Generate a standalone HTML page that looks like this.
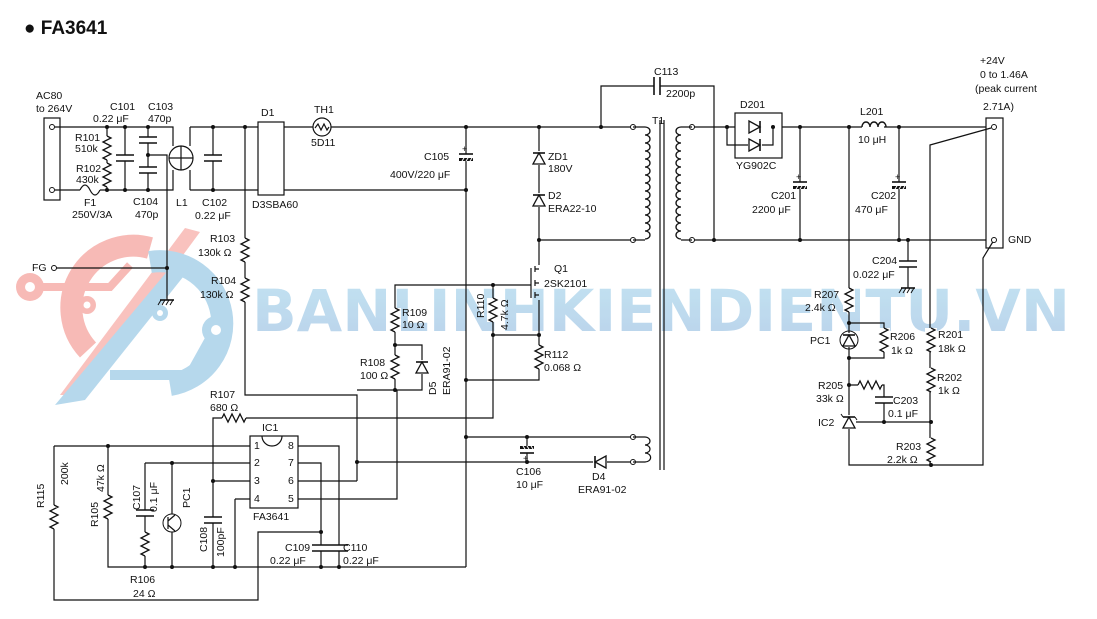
<!DOCTYPE html>
<html><head><meta charset="utf-8">
<style>
html,body{margin:0;padding:0;background:#fff;}
svg{display:block;}
text{font-family:"Liberation Sans",sans-serif;font-size:10.5px;fill:#111;}
</style></head><body>
<svg width="1097" height="619" viewBox="0 0 1097 619" xmlns="http://www.w3.org/2000/svg">
<defs>
<symbol id="rv" overflow="visible"><rect x="-6" y="0" width="12" height="24" fill="#fff"/><polyline points="0,0 4,2 -4,6 4,10 -4,14 4,18 -4,22 0,24" fill="none" stroke="#111" stroke-width="1.3"/></symbol>
<symbol id="rh" overflow="visible"><rect x="0" y="-6" width="24" height="12" fill="#fff"/><polyline points="0,0 2,-4 6,4 10,-4 14,4 18,-4 22,4 24,0" fill="none" stroke="#111" stroke-width="1.3"/></symbol>
<symbol id="cv" overflow="visible"><rect x="-9" y="-3" width="18" height="6" fill="#fff"/><line x1="-9" y1="-3" x2="9" y2="-3" stroke="#111" stroke-width="1.6"/><line x1="-9" y1="3" x2="9" y2="3" stroke="#111" stroke-width="1.6"/></symbol>
<symbol id="ch" overflow="visible"><rect x="-3" y="-9" width="6" height="18" fill="#fff"/><line x1="-3" y1="-9" x2="-3" y2="9" stroke="#111" stroke-width="1.6"/><line x1="3" y1="-9" x2="3" y2="9" stroke="#111" stroke-width="1.6"/></symbol>
<symbol id="ce" overflow="visible"><rect x="-8" y="-3" width="16" height="7" fill="#fff"/><line x1="-7" y1="-3" x2="7" y2="-3" stroke="#111" stroke-width="1.6"/><rect x="-7" y="1" width="14" height="3" fill="#111"/><line x1="-4" y1="4" x2="-2" y2="1" stroke="#fff"/><line x1="0" y1="4" x2="2" y2="1" stroke="#fff"/><line x1="4" y1="4" x2="6" y2="1" stroke="#fff"/><text x="-4" y="-5" style="font-size:9px">+</text></symbol>
<symbol id="gnd" overflow="visible"><line x1="-7" y1="0" x2="7" y2="0" stroke="#111" stroke-width="1.6"/><path d="M-6 0 l-3 5 M-2 0 l-3 5 M2 0 l-3 5 M6 0 l-3 5" stroke="#111" stroke-width="1"/></symbol>
<symbol id="dup" overflow="visible"><rect x="-7" y="-7" width="14" height="14" fill="#fff"/><polygon points="-6,6 6,6 0,-5" fill="#fff" stroke="#111" stroke-width="1.3"/><line x1="-6" y1="-5" x2="6" y2="-5" stroke="#111" stroke-width="1.6"/></symbol>
<symbol id="coil" overflow="visible"><path d="M0 0 a5 4 0 1 1 0 8 a5 4 0 1 1 0 8 a5 4 0 1 1 0 8 a5 4 0 1 1 0 8 a5 4 0 1 1 0 8 a5 4 0 1 1 0 8 a5 4 0 1 1 0 8 a5 4 0 1 1 0 8 a5 4 0 1 1 0 8 a5 4 0 1 1 0 8 a5 4 0 1 1 0 8 a5 4 0 1 1 0 8 a5 4 0 1 1 0 8 a5 4 0 1 1 0 8" fill="none" stroke="#111" stroke-width="1.3"/></symbol>
<linearGradient id="wg" x1="0" y1="0" x2="0" y2="1"><stop offset="0" stop-color="#b4dcef"/><stop offset="1" stop-color="#a9c8e6"/></linearGradient>
</defs>

<!-- watermark -->
<g opacity="0.8">
<path d="M88 350 A62 62 0 0 1 150 248" fill="none" stroke="#f6aaa4" stroke-width="22"/>
<path d="M60 395 L185 228 L200 232 L80 395 Z" fill="#f6aaa4" opacity="0.9"/>
<circle cx="30" cy="287" r="14" fill="#f6aaa4"/><circle cx="30" cy="287" r="5" fill="#fff"/>
<path d="M40 287 H110 L130 265" fill="none" stroke="#f6aaa4" stroke-width="8"/>
<circle cx="87" cy="305" r="9" fill="#f6aaa4"/><circle cx="87" cy="305" r="3.5" fill="#fff"/>
<path d="M150 262 A62 62 0 0 1 170 385" fill="none" stroke="#a4cfe8" stroke-width="22"/>
<path d="M55 405 L175 262 L195 262 L85 400 Z" fill="#a4cfe8"/>
<path d="M110 375 H190 L215 330" fill="none" stroke="#a4cfe8" stroke-width="10"/>
<circle cx="216" cy="330" r="14" fill="#a4cfe8"/><circle cx="216" cy="330" r="5" fill="#fff"/>
<circle cx="160" cy="313" r="8" fill="#a4cfe8"/><circle cx="160" cy="313" r="3" fill="#fff"/>
<text x="252" y="331" textLength="818" lengthAdjust="spacingAndGlyphs" style="font-size:58px;font-weight:bold;fill:url(#wg);font-family:'DejaVu Sans','Liberation Sans',sans-serif">BANLINHKIENDIENTU.VN</text>
</g>

<text x="24" y="34" style="font-size:19px;font-weight:bold">● FA3641</text>

<g stroke="#111" stroke-width="1.2" fill="none">
<rect x="44" y="118" width="16" height="82"/>
<path d="M55 127 H173 V146 M55 190 H80 M100 190 H173 V170"/>
<path d="M80 190 q5 -10 10 0 q5 10 10 0"/>
<path d="M107 127 V190 M125 127 V190 M148 127 V190 M148 155 H167 V300 M55 268 H167"/>
<ellipse cx="181" cy="158" rx="12" ry="12"/>
<path d="M169 158 H193 M181 146 V170"/>
<path d="M190 127 V146 M190 190 V170 M190 127 H258 M190 190 H258"/>
<path d="M213 127 V190 M245 127 V395 H357 V481"/>
<rect x="258" y="122" width="26" height="73"/>
<path d="M284 127 H313 M331 127 H633 M284 190 H466"/>
<circle cx="322" cy="127" r="9" fill="#fff"/>
<path d="M315 128 l3 -4 l3 6 l3 -6 l3 6 l2 -3"/>
<path d="M466 127 V567"/>
<path d="M539 127 V240 H633 M539 240 V265 M539 300 V380 H466"/>
<path d="M601 127 V86 H714 V240"/>
<path d="M531 268 V298 M535 266 V272 M535 280 V286 M535 292 V298 M535 269 H539 M535 295 H539 M535 283 H539"/>
<path d="M531 285 H395 V390 H357 M493 285 V335 H539 M493 335 V418 H213 V567"/>
<path d="M395 345 H422 V390 H395"/>
<path d="M660 120 V470 M664 120 V470"/>
<path d="M692 127 H735 M782 127 H986 M692 240 H986"/>
<path d="M727 127 V145 H760 M773 127 V145 H760"/>
<rect x="735" y="113" width="47" height="45"/>
<path d="M800 127 V240 M899 127 V240 M908 240 V288"/>
<path d="M991 128 L930 145 V465 M994 240 L983 258 V465 H849 V127"/>
<rect x="986" y="118" width="17" height="130"/>
<path d="M849 323 H884 V358 H849 M849 385 H884 V422 H849 M884 422 H931"/>
<path d="M466 437 H633 M357 462 H633"/>
<path d="M527 437 V462"/>
<rect x="250" y="436" width="48" height="72"/>
<path d="M54 446 H250 M145 463 H250 M213 481 H250 M235 499 H250 V499 M235 499 V567"/>
<path d="M298 446 H339 V567 M298 463 H321 V567 M298 481 H357 M298 499 H397 V390"/>
<path d="M54 446 V600 H258 V532 H321 M108 446 V567 H466 M145 463 V567 M172 463 V567"/>
<path d="M262 436 a10 10 0 0 0 20 0"/>
</g>

<g fill="#fff" stroke="#111" stroke-width="1">
<circle cx="52" cy="127" r="2.5"/><circle cx="52" cy="190" r="2.5"/><circle cx="54" cy="268" r="2.5"/>
<circle cx="633" cy="127" r="2.5"/><circle cx="633" cy="240" r="2.5"/><circle cx="692" cy="127" r="2.5"/><circle cx="692" cy="240" r="2.5"/>
<circle cx="633" cy="437" r="2.5"/><circle cx="633" cy="462" r="2.5"/>
<circle cx="994" cy="127" r="2.5"/><circle cx="994" cy="240" r="2.5"/>
</g>
<use href="#coil" x="645" y="127"/>
<g transform="translate(681,127) scale(-1,1)"><use href="#coil"/></g>
<path d="M633 127 H645 M633 240 H645 M681 127 H692 M681 240 H692" stroke="#111" stroke-width="1.2"/>
<path d="M633 437 H645 M633 462 H645 M645 437 a5 4 0 1 1 0 8 a5 4 0 1 1 0 8 a5 4 0 1 1 0 9" fill="none" stroke="#111" stroke-width="1.2"/>
<rect x="862" y="120" width="22" height="10" fill="#fff"/>
<path d="M862 127 a4 5 0 0 1 8 0 a4 5 0 0 1 8 0 a4 5 0 0 1 8 0" fill="none" stroke="#111" stroke-width="1.4"/>

<use href="#rv" x="107" y="136"/><use href="#rv" x="107" y="163"/>
<use href="#rv" x="245" y="238"/><use href="#rv" x="245" y="278"/>
<use href="#rv" x="395" y="308"/><use href="#rv" x="395" y="355"/>
<use href="#rv" x="493" y="298"/><use href="#rv" x="539" y="345"/>
<use href="#rv" x="849" y="288"/><use href="#rv" x="884" y="328"/>
<use href="#rv" x="931" y="328"/><use href="#rv" x="931" y="368"/><use href="#rv" x="931" y="438"/>
<use href="#rh" x="858" y="385"/><use href="#rh" x="222" y="418"/>
<use href="#rv" x="54" y="505"/><use href="#rv" x="108" y="495"/><use href="#rv" x="145" y="532"/>
<use href="#cv" x="125" y="158"/><use href="#cv" x="148" y="140"/><use href="#cv" x="148" y="170"/>
<use href="#cv" x="213" y="158"/><use href="#cv" x="908" y="264"/><use href="#cv" x="884" y="400"/>
<use href="#cv" x="145" y="513"/><use href="#cv" x="213" y="520"/><use href="#cv" x="321" y="548"/><use href="#cv" x="339" y="548"/>
<use href="#ch" x="657" y="86"/>
<use href="#ce" x="466" y="157"/><use href="#ce" x="800" y="185"/><use href="#ce" x="899" y="185"/>
<g transform="translate(527,450) scale(1,-1)"><use href="#ce"/></g>
<use href="#gnd" x="167" y="300"/><use href="#gnd" x="908" y="288"/>
<use href="#dup" x="539" y="158"/><use href="#dup" x="539" y="200"/><use href="#dup" x="422" y="367"/>
<g transform="translate(600,462) rotate(-90)"><use href="#dup"/></g>
<g transform="translate(755,127) rotate(90)"><use href="#dup"/></g>
<g transform="translate(755,145) rotate(90)"><use href="#dup"/></g>
<g transform="translate(849,422)"><use href="#dup"/><path d="M-6 -5 l-2 -3 M6 -5 l2 3" stroke="#111"/></g>
<g transform="translate(849,340)"><use href="#dup"/><circle r="9" fill="none" stroke="#111"/></g>
<g transform="translate(172,523)"><circle r="9" fill="#fff" stroke="#111"/><path d="M-4 -6 V6 M-4 -2 L3 -8 M-4 2 L3 8" stroke="#111" stroke-width="1.2"/></g>

<g fill="#111">
<circle cx="107" cy="127" r="2"/><circle cx="125" cy="127" r="2"/><circle cx="148" cy="127" r="2"/>
<circle cx="107" cy="190" r="2"/><circle cx="125" cy="190" r="2"/><circle cx="148" cy="190" r="2"/>
<circle cx="148" cy="155" r="2"/><circle cx="167" cy="268" r="2"/>
<circle cx="213" cy="127" r="2"/><circle cx="213" cy="190" r="2"/><circle cx="245" cy="127" r="2"/>
<circle cx="466" cy="127" r="2"/><circle cx="466" cy="190" r="2"/><circle cx="539" cy="127" r="2"/><circle cx="601" cy="127" r="2"/>
<circle cx="539" cy="240" r="2"/><circle cx="493" cy="285" r="2"/><circle cx="493" cy="335" r="2"/><circle cx="539" cy="335" r="2"/>
<circle cx="395" cy="345" r="2"/><circle cx="395" cy="390" r="2"/><circle cx="466" cy="380" r="2"/>
<circle cx="466" cy="437" r="2"/><circle cx="527" cy="437" r="2"/><circle cx="527" cy="462" r="2"/><circle cx="357" cy="462" r="2"/>
<circle cx="714" cy="240" r="2"/><circle cx="727" cy="127" r="2"/><circle cx="773" cy="127" r="2"/>
<circle cx="800" cy="127" r="2"/><circle cx="800" cy="240" r="2"/><circle cx="849" cy="127" r="2"/><circle cx="899" cy="127" r="2"/>
<circle cx="899" cy="240" r="2"/><circle cx="908" cy="240" r="2"/><circle cx="849" cy="323" r="2"/><circle cx="849" cy="358" r="2"/>
<circle cx="849" cy="385" r="2"/><circle cx="884" cy="422" r="2"/><circle cx="931" cy="422" r="2"/><circle cx="931" cy="465" r="2"/>
<circle cx="108" cy="446" r="2"/><circle cx="172" cy="463" r="2"/><circle cx="213" cy="481" r="2"/>
<circle cx="145" cy="567" r="2"/><circle cx="172" cy="567" r="2"/><circle cx="213" cy="567" r="2"/><circle cx="235" cy="567" r="2"/>
<circle cx="321" cy="567" r="2"/><circle cx="339" cy="567" r="2"/><circle cx="321" cy="532" r="2"/>
</g>

<text x="36" y="99">AC80</text><text x="36" y="112">to 264V</text>
<text x="110" y="110">C101</text><text x="93" y="122">0.22 μF</text>
<text x="148" y="110">C103</text><text x="148" y="122">470p</text>
<text x="75" y="141">R101</text><text x="75" y="152">510k</text>
<text x="76" y="172">R102</text><text x="76" y="183">430k</text>
<text x="84" y="206">F1</text><text x="72" y="218">250V/3A</text>
<text x="133" y="205">C104</text><text x="135" y="218">470p</text>
<text x="176" y="206">L1</text><text x="202" y="206">C102</text><text x="195" y="219">0.22 μF</text>
<text x="261" y="116">D1</text><text x="252" y="208">D3SBA60</text>
<text x="314" y="113">TH1</text><text x="311" y="146">5D11</text>
<text x="424" y="160">C105</text><text x="390" y="178">400V/220 μF</text>
<text x="548" y="160">ZD1</text><text x="548" y="172">180V</text>
<text x="548" y="199">D2</text><text x="548" y="212">ERA22-10</text>
<text x="554" y="272">Q1</text><text x="544" y="287">2SK2101</text>
<text x="32" y="271">FG</text>
<text x="210" y="242">R103</text><text x="198" y="256">130k Ω</text>
<text x="211" y="284">R104</text><text x="200" y="298">130k Ω</text>
<text x="402" y="316">R109</text><text x="402" y="328">10 Ω</text>
<text x="360" y="366">R108</text><text x="360" y="379">100 Ω</text>
<text x="544" y="358">R112</text><text x="544" y="371">0.068 Ω</text>
<text transform="translate(484,318) rotate(-90)">R110</text>
<text transform="translate(508,330) rotate(-90)">4.7k Ω</text>
<text transform="translate(436,395) rotate(-90)">D5</text>
<text transform="translate(450,395) rotate(-90)">ERA91-02</text>
<text x="210" y="398">R107</text><text x="210" y="411">680 Ω</text>
<text x="262" y="431">IC1</text><text x="253" y="520">FA3641</text>
<g style="font-size:8px"><text x="254" y="449">1</text><text x="254" y="466">2</text><text x="254" y="484">3</text><text x="254" y="502">4</text>
<text x="288" y="449">8</text><text x="288" y="466">7</text><text x="288" y="484">6</text><text x="288" y="502">5</text></g>
<text x="285" y="551">C109</text><text x="270" y="564">0.22 μF</text>
<text x="343" y="551">C110</text><text x="343" y="564">0.22 μF</text>
<text x="516" y="475">C106</text><text x="516" y="488">10 μF</text>
<text x="592" y="480">D4</text><text x="578" y="493">ERA91-02</text>
<text x="130" y="583">R106</text><text x="133" y="597">24 Ω</text>
<text transform="translate(44,508) rotate(-90)">R115</text>
<text transform="translate(68,485) rotate(-90)">200k</text>
<text transform="translate(98,527) rotate(-90)">R105</text>
<text transform="translate(104,492) rotate(-90)">47k Ω</text>
<text transform="translate(140,510) rotate(-90)">C107</text>
<text transform="translate(157,512) rotate(-90)">0.1 μF</text>
<text transform="translate(190,508) rotate(-90)">PC1</text>
<text transform="translate(207,552) rotate(-90)">C108</text>
<text transform="translate(224,557) rotate(-90)">100pF</text>
<text x="654" y="75">C113</text><text x="666" y="97">2200p</text>
<text x="652" y="124">T1</text>
<text x="740" y="108">D201</text><text x="736" y="169">YG902C</text>
<text x="771" y="199">C201</text><text x="752" y="213">2200 μF</text>
<text x="860" y="115">L201</text><text x="858" y="143">10 μH</text>
<text x="871" y="199">C202</text><text x="855" y="213">470 μF</text>
<text x="980" y="64">+24V</text><text x="980" y="78">0 to 1.46A</text>
<text x="975" y="92">(peak current</text><text x="983" y="110">2.71A)</text>
<text x="1008" y="243">GND</text>
<text x="872" y="264">C204</text><text x="853" y="278">0.022 μF</text>
<text x="814" y="298">R207</text><text x="805" y="311">2.4k Ω</text>
<text x="810" y="344">PC1</text>
<text x="890" y="340">R206</text><text x="891" y="354">1k Ω</text>
<text x="938" y="338">R201</text><text x="938" y="352">18k Ω</text>
<text x="937" y="381">R202</text><text x="938" y="394">1k Ω</text>
<text x="818" y="389">R205</text><text x="816" y="402">33k Ω</text>
<text x="893" y="404">C203</text><text x="888" y="417">0.1 μF</text>
<text x="818" y="426">IC2</text>
<text x="896" y="450">R203</text><text x="887" y="463">2.2k Ω</text>
</svg>
</body></html>
